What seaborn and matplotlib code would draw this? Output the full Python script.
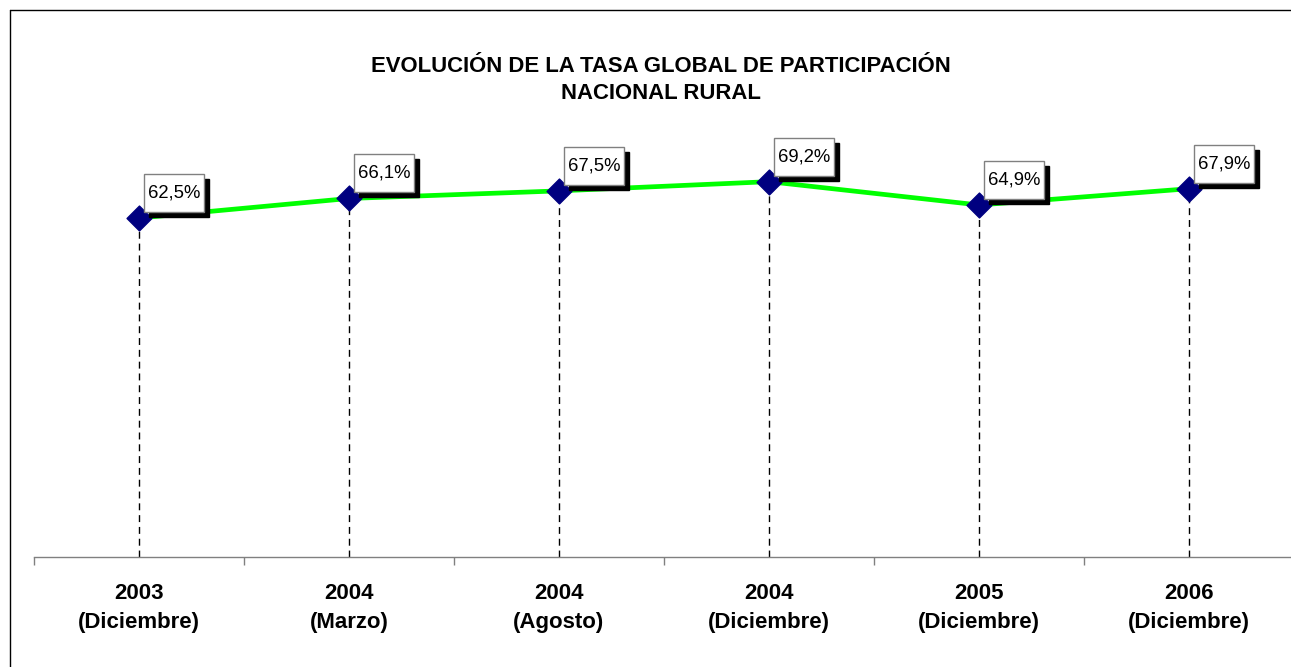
import numpy as np
import pandas as pd
import matplotlib
matplotlib.use("Agg")
import matplotlib.pyplot as plt
import matplotlib.transforms as mtransforms
import seaborn as sns
from matplotlib.lines import Line2D
from matplotlib.patches import Rectangle

# Datos del gráfico
periodos = ["2003\n(Diciembre)", "2004\n(Marzo)", "2004\n(Agosto)",
            "2004\n(Diciembre)", "2005\n(Diciembre)", "2006\n(Diciembre)"]
tasa = [62.5, 66.1, 67.5, 69.2, 64.9, 67.9]
etiquetas = ["62,5%", "66,1%", "67,5%", "69,2%", "64,9%", "67,9%"]

titulo = "EVOLUCIÓN DE LA TASA GLOBAL DE PARTICIPACIÓN\nNACIONAL RURAL"

W, H = 1291, 667
sns.set_style("white")
plt.rcParams['font.family'] = ['Liberation Sans', 'DejaVu Sans']

fig = plt.figure(figsize=(W / 100, H / 100), dpi=100)

# ejes ubicados en pixeles: x de 34 a 1294, fondo en y=557
left, right, bottom, top = 34, 1294, 557, 100
ax = fig.add_axes([left / W, 1 - bottom / H, (right - left) / W, (bottom - top) / H])
ax.patch.set_alpha(0)

df = pd.DataFrame({"pos": np.arange(len(periodos)), "tasa": tasa})

# lineas punteadas verticales
ax.vlines(df["pos"], 0, df["tasa"], colors="black", linestyles=(0, (5, 3.5)), linewidth=1, zorder=1)

sns.lineplot(data=df, x="pos", y="tasa", color="#00FF00", linewidth=3.4, ax=ax, zorder=2)
sns.scatterplot(data=df, x="pos", y="tasa", marker="D", s=160, color="#000080",
                edgecolor="#000080", ax=ax, zorder=3)

# etiquetas con sombra (cajas en pixeles relativas al punto)
bw, bh, dx, dy, sh = 60, 38, 5, 6, 5
for x, y, lab in zip(df["pos"], df["tasa"], etiquetas):
    tr = mtransforms.ScaledTranslation(x, y, ax.transData)
    ax.add_patch(Rectangle((dx + sh, dy - sh), bw, bh, transform=tr, fc="black", ec="black",
                           lw=1, zorder=4, clip_on=False))
    ax.add_patch(Rectangle((dx, dy), bw, bh, transform=tr, fc="white", ec="#808080",
                           lw=1, zorder=5, clip_on=False))
    ax.text(dx + bw / 2, dy + bh / 2, lab, transform=tr, ha="center", va="center",
            fontsize=13.3, color="black", zorder=6)

ax.set_xlim(-0.5, len(periodos) - 0.5)
ax.set_ylim(0, (bottom - top) / 5.424)
ax.set_xticks(df["pos"])
ax.set_xticklabels(periodos, fontsize=16, fontweight="bold", linespacing=1.5, color="black")
ax.set_xticks(np.arange(-0.5, len(periodos), 1), minor=True)
ax.tick_params(axis="x", which="major", length=0, pad=19)
ax.tick_params(axis="x", which="minor", length=6, width=1, color="#808080", direction="out", bottom=True)
ax.set_yticks([])
ax.set_xlabel("")
ax.set_ylabel("")
for s in ["left", "right", "top"]:
    ax.spines[s].set_visible(False)
ax.spines["bottom"].set_color("#808080")
ax.spines["bottom"].set_linewidth(1)

fig.text(661 / W, 1 - 80 / H, titulo, ha="center", va="center", fontsize=15.9,
         fontweight="bold", linespacing=1.4, color="black")

# marco del gráfico
fig.add_artist(Line2D([10 / W, 10 / W], [0, 1 - 10 / H], color="black", lw=1, transform=fig.transFigure))
fig.add_artist(Line2D([10 / W, 1], [1 - 10 / H, 1 - 10 / H], color="black", lw=1, transform=fig.transFigure))

fig.savefig("out.png", dpi=100)
